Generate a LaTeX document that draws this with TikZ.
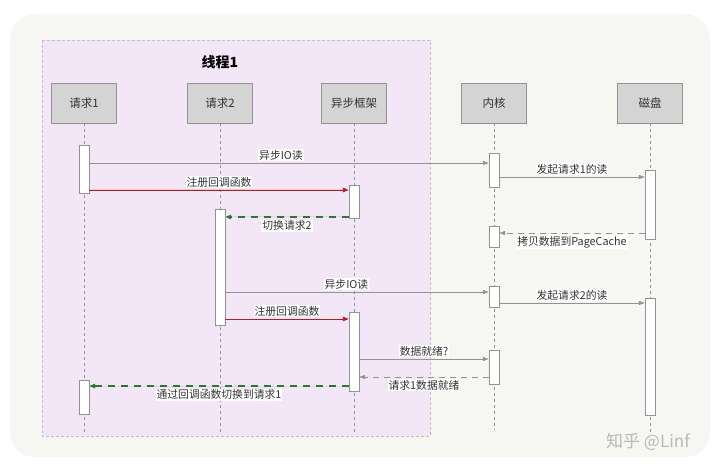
\documentclass[tikz,border=0pt]{standalone}
\usepackage{fontspec}
\setmainfont{Noto Sans CJK SC}
\usetikzlibrary{arrows.meta}
\definecolor{bgpage}{HTML}{F6F6F2}
\definecolor{threadfill}{HTML}{F3E6F6}
\definecolor{boxfill}{HTML}{D4D4D4}
\definecolor{linegray}{HTML}{939393}
\definecolor{txtgray}{HTML}{333333}
\definecolor{regred}{HTML}{B01E1E}
\definecolor{cbgreen}{HTML}{2B7A2B}

\begin{document}
\begin{tikzpicture}[x=1pt, y=-1pt, font=\fontsize{10.8}{13}\selectfont, text=txtgray,
      actor/.style={rectangle, draw=linegray, fill=boxfill, minimum width=65pt, minimum height=40pt, inner sep=0pt, font=\fontsize{11.5}{13}\selectfont},
      act/.style={rectangle, draw=linegray, fill=white, minimum width=10pt, inner sep=0pt},
      life/.style={draw=linegray, dashed, dash pattern=on 3pt off 3pt},
      msg/.style={draw=linegray, line width=0.75pt, -{Triangle[length=6pt,width=4pt]}},
      reply/.style={msg, dashed, dash pattern=on 6pt off 5pt},
      regmsg/.style={msg, draw=regred, line width=0.9pt, -{Triangle[length=6pt,width=4.5pt]}, fill=regred},
      switchmsg/.style={msg, draw=cbgreen, line width=1.2pt, dashed, dash pattern=on 7pt off 6pt, -{Triangle[length=6pt,width=4.5pt]}, fill=cbgreen},
      lbl/.style={fill=white, inner sep=1pt, text=txtgray}]
      \useasboundingbox (0,0) rectangle (720,470);
      % background and thread box
      \fill[white] (0,0) rectangle (720,470);
      \fill[bgpage, rounded corners=25pt] (10,14) rectangle (710,457);
      \draw[threadfill!60!gray, fill=threadfill, dashed, dash pattern=on 3pt off 2pt] (42,40) rectangle (430,436);
      \node[font=\fontsize{14}{16}\selectfont\bfseries, text=black](title) at (220,62){线程1};
      % participants
      \node[actor](req1) at (84,103){请求1};
      \node[actor](req2) at (220,103){请求2};
      \node[actor](frame) at (354,103){异步框架};
      \node[actor](kern) at (494,103){内核};
      \node[actor](disk) at (650,103){磁盘};
      % lifelines
      \coordinate(req1end) at (84,432);
      \coordinate(req2end) at (220,432);
      \coordinate(frameend) at (354,432);
      \coordinate(kernend) at (494,430);
      \coordinate(diskend) at (650,432);
      \draw[life] (req1) -- (req1end);
      \draw[life] (req2) -- (req2end);
      \draw[life] (frame) -- (frameend);
      \draw[life] (kern) -- (kernend);
      \draw[life] (disk) -- (diskend);
      % activations
      \node[act, minimum height=48pt](r1a) at (84,169){};
      \node[act, minimum height=34pt](r1b) at (84,397){};
      \node[act, minimum height=116pt](r2a) at (220,267){};
      \node[act, minimum height=33pt](f1) at (354,201.5){};
      \node[act, minimum height=79pt](f2) at (354,351.5){};
      \node[act, minimum height=34pt](k1) at (494,170){};
      \node[act, minimum height=21pt](k2) at (494,236.5){};
      \node[act, minimum height=21pt](k3) at (494,296.5){};
      \node[act, minimum height=34pt](k4) at (494,367){};
      \node[act, minimum height=69pt](d1) at (650,204.5){};
      \node[act, minimum height=117pt](d2) at (650,356.5){};
      % messages
      \draw[msg] (r1a.east |- 0,163) -- node[lbl, above=1.5pt, pos=0.48] {异步IO读} (k1.west |- 0,163);
      \draw[regmsg] (r1a.east |- 0,190) -- node[lbl, above=1.5pt] {注册回调函数} (f1.west |- 0,190);
      \draw[switchmsg] (f1.west |- 0,217) -- node[lbl, below=2pt] {切换请求2} (r2a.east |- 0,217);
      \draw[msg] (k1.east |- 0,177) -- node[lbl, above=1.5pt] {发起请求1的读} (d1.west |- 0,177);
      \draw[reply] (d1.west |- 0,233) -- node[lbl, below=2pt] {拷贝数据到PageCache} (k2.east |- 0,233);
      \draw[msg] (r2a.east |- 0,292) -- node[lbl, above=1.5pt, pos=0.46] {异步IO读} (k3.west |- 0,292);
      \draw[regmsg] (r2a.east |- 0,319) -- node[lbl, above=1.5pt] {注册回调函数} (f2.west |- 0,319);
      \draw[msg] (k3.east |- 0,303) -- node[lbl, above=1.5pt] {发起请求2的读} (d2.west |- 0,303);
      \draw[msg] (f2.east |- 0,359) -- node[lbl, above=1.5pt] {数据就绪?} (k4.west |- 0,359);
      \draw[reply] (k4.west |- 0,377) -- node[lbl, below=2pt] {请求1数据就绪} (f2.east |- 0,377);
      \draw[switchmsg] (f2.west |- 0,386) -- node[lbl, below=2pt] {通过回调函数切换到请求1} (r1b.east |- 0,386);
      % watermark
      \node[font=\fontsize{17}{19}\selectfont, text=gray!55](mark) at (648,442){知乎 @Linf};
    \end{tikzpicture}
\end{document}
